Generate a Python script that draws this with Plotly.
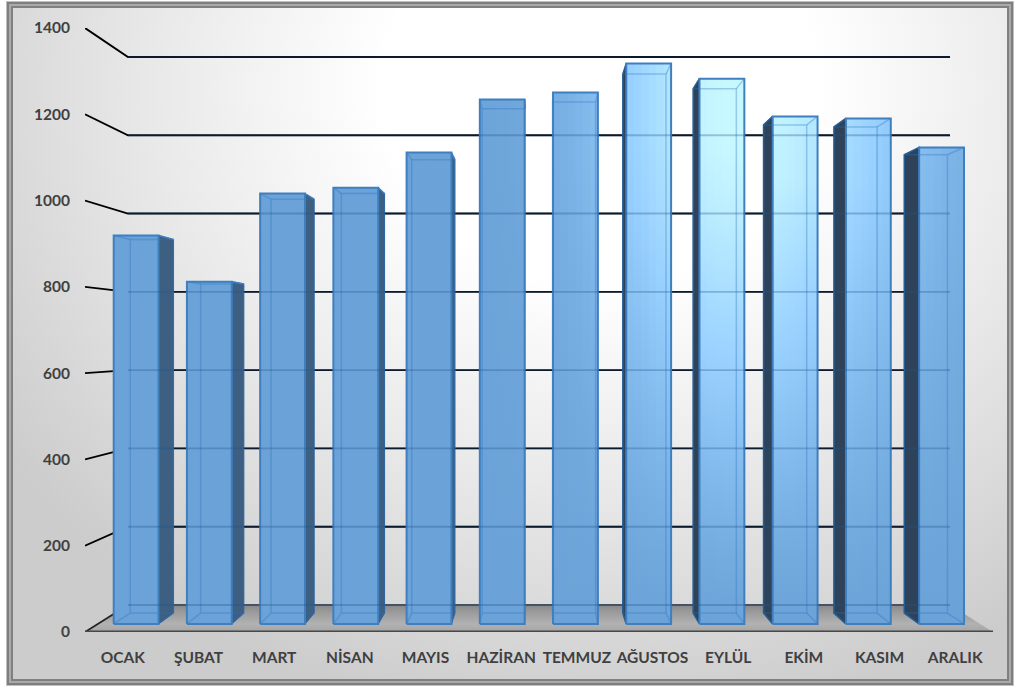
import base64
import plotly.graph_objects as go

# Monthly values and axis labels
months = ["OCAK", "ŞUBAT", "MART", "NİSAN", "MAYIS", "HAZİRAN",
          "TEMMUZ", "AĞUSTOS", "EYLÜL", "EKİM", "KASIM", "ARALIK"]
values = [926, 816, 1026, 1040, 1124, 1250, 1267, 1336, 1300, 1210, 1205, 1136]
y_ticks = [0, 200, 400, 600, 800, 1000, 1200, 1400]

W, H = 1020, 688

# Plot plane in page pixels: value 0 / 1400 rows and the category span
PX_LEFT, PX_RIGHT = 85, 993
PX_Y0, PX_Y1400 = 632, 28
X_UNIT = (PX_RIGHT - PX_LEFT) / 12
Y_UNIT = (PX_Y0 - PX_Y1400) / 1400

# Depth model: the rear wall is narrower and shorter than the front plane
BACK_X0, BACK_X1 = 0.568, 11.432
BACK_Y0, BACK_YK = 62.6, 0.9073
D_FRONT, D_BACK = 0.30, 0.70
BAR_START, BAR_WIDTH, BAR_STEP = 0.215, 0.61, 0.996


def project(c, v, d):
    """Map (category position, value, depth) onto the x/y axes."""
    xb = BACK_X0 + c * (BACK_X1 - BACK_X0) / 12
    yb = BACK_Y0 + BACK_YK * v
    return c * (1 - d) + xb * d, v * (1 - d) + yb * d


def path(*pts):
    xs, ys = zip(*pts)
    return list(xs), list(ys)


def highlight(x, y):
    """Strength of the glossy sheen at an axis position, 0..1."""
    px = PX_LEFT + x * X_UNIT
    py = PX_Y0 - y * Y_UNIT
    sx = 125 if px < 735 else 170
    gx = 2.718 ** (-((px - 735) / sx) ** 2)
    gy = max(0.0, min(1.0, (620 - py) / 450)) ** 1.2
    return gx * gy


def blue(t):
    """Face colour: steel blue through sky blue up to pale cyan."""
    base, mid, peak = (107, 163, 216), (152, 208, 255), (200, 248, 255)
    a, p, f = (base, mid, t / 0.5) if t < 0.5 else (mid, peak, (t - 0.5) / 0.5)
    r, g, b = [round(u + (w - u) * f) for u, w in zip(a, p)]
    return f"rgb({r},{g},{b})"


# Page backdrop: soft radial sheen inside a bevelled grey frame
svg = f"""<svg xmlns='http://www.w3.org/2000/svg' width='{W}' height='{H}'>
<defs>
<radialGradient id='g' gradientUnits='userSpaceOnUse' cx='0' cy='0' r='1'
 gradientTransform='translate(600 90) scale(720 640)'>
<stop offset='0' stop-color='#ffffff'/><stop offset='0.3' stop-color='#ffffff'/>
<stop offset='0.62' stop-color='#e9e9e9'/><stop offset='1' stop-color='#cccccc'/>
</radialGradient>
</defs>
<rect width='{W}' height='{H}' fill='#ffffff'/>
<rect x='6' y='1' width='1008' height='685' fill='#c0c0c0'/>
<rect x='7' y='2' width='1006' height='683' fill='#7e7e7e'/>
<rect x='9' y='4' width='1002' height='679' fill='#aaaaaa'/>
<rect x='11' y='6' width='998' height='675' fill='#808080'/>
<rect x='13' y='8' width='994' height='671' fill='url(#g)'/>
</svg>"""
backdrop = "data:image/svg+xml;base64," + base64.b64encode(svg.encode()).decode()

fig = go.Figure()


def poly(xs, ys, fill=None, gradient=None, line=None, width=0):
    kw = {}
    if gradient:
        kw["fillgradient"] = gradient
    if fill or gradient:
        kw.update(fill="toself")
        if fill:
            kw["fillcolor"] = fill
    fig.add_trace(go.Scatter(
        x=xs, y=ys, mode="lines", cliponaxis=False, hoverinfo="skip",
        line=dict(color=line or "rgba(0,0,0,0)", width=width), **kw))


# Floor
fx, fy = path(project(0, 0, 0), project(0, 0, 1), project(12, 0, 1), project(12, 0, 0), project(0, 0, 0))
poly(fx, fy, gradient=dict(
    type="vertical", start=0, stop=project(0, 0, 1)[1],
    colorscale=[[0, "#a4a4a4"], [0.3, "#b2b2b2"], [0.75, "#9a9a9a"], [1, "#888888"]]))

# Rear wall gridlines with their return strokes to the value axis
for v in y_ticks:
    lx, ly = path(project(0, v, 0), project(0, v, 1), project(12, v, 1))
    if v == 0:
        poly(lx[1:], ly[1:], line="#555555", width=2)
        poly(lx[:2], ly[:2], line="#222222", width=1.75)
    else:
        poly(lx, ly, line="#000000", width=1.9)

# Front edge of the floor
ex, ey = path(project(0, 0, 0), project(12, 0, 0))
poly(ex, ey, line="#484848", width=3)

N_STRIPS = 6
EDGE = "#3f7fc0"
INNER = "rgba(45,115,190,0.34)"

for i, v in enumerate(values):
    c0 = i * BAR_STEP + BAR_START
    c1 = c0 + BAR_WIDTH
    fl, fr = project(c0, 0, D_FRONT), project(c1, 0, D_FRONT)
    tl, tr = project(c0, v, D_FRONT), project(c1, v, D_FRONT)
    bbl, bbr = project(c0, 0, D_BACK), project(c1, 0, D_BACK)
    btl, btr = project(c0, v, D_BACK), project(c1, v, D_BACK)

    # Visible dark flank, on whichever side faces the viewer
    if btr[0] > tr[0] + 0.01:
        sx, sy = path(fr, tr, btr, bbr, fr)
        poly(sx, sy, fill="#3d5f82", line="#2f5f90", width=1)
    if btl[0] < tl[0] - 0.01:
        sx, sy = path(fl, tl, btl, bbl, fl)
        poly(sx, sy, fill="#2e4359", line="#23517e", width=1.5)

    # Front face built from narrow columns, each shaded bottom to top
    for k in range(N_STRIPS):
        a = c0 + (c1 - c0) * k / N_STRIPS
        b = c0 + (c1 - c0) * (k + 1) / N_STRIPS
        b_draw = min(b + 0.012, c1)
        xa, y0 = project(a, 0, D_FRONT)
        xb, y1 = project(b_draw, v, D_FRONT)
        xm = (xa + xb) / 2
        stops = [[j / 8, blue(highlight(xm, y0 + (y1 - y0) * j / 8))] for j in range(9)]
        poly([xa, xb, xb, xa, xa], [y0, y0, y1, y1, y0],
             gradient=dict(type="vertical", start=y0, stop=y1, colorscale=stops))

    # Rear edges and depth diagonals seen through the glass
    rx, ry = path(bbl, btl, btr, bbr, bbl)
    poly(rx, ry, line=INNER, width=1.5)
    for p, q in ((fl, bbl), (fr, bbr), (tl, btl)):
        dx, dy = path(p, q)
        poly(dx, dy, line=INNER, width=1.5)
    dx, dy = path(tr, btr)
    poly(dx, dy, line=EDGE if btr[0] > tr[0] else INNER, width=1.5)

    # Front outline
    ox, oy = path(fl, tl, tr, fr, fl)
    poly(ox, oy, line=EDGE, width=2)

# Gridlines showing faintly through the bars
for v in y_ticks:
    lx, ly = path(project(0, v, 1), project(12, v, 1))
    poly(lx, ly, line="rgba(35,85,140,0.32)", width=1.9)

label_font = dict(family="Lato, Carlito, sans-serif", size=15.5, color="#404040", weight="bold")

fig.update_layout(
    width=W, height=H, autosize=False,
    margin=dict(l=0, r=0, t=0, b=0, pad=0),
    paper_bgcolor="#ffffff", plot_bgcolor="rgba(0,0,0,0)",
    showlegend=False,
    xaxis=dict(
        domain=[PX_LEFT / W, PX_RIGHT / W], range=[0, 12], automargin=False,
        tickmode="array", tickvals=[i + 0.5 for i in range(12)], ticktext=months,
        showgrid=False, zeroline=False, showline=False,
        ticks="outside", ticklen=11, tickcolor="rgba(0,0,0,0)", tickfont=label_font,
    ),
    yaxis=dict(
        domain=[(H - PX_Y0) / H, (H - PX_Y1400) / H], range=[0, 1400], automargin=False,
        tickmode="array", tickvals=y_ticks,
        showgrid=False, zeroline=False, showline=False,
        ticks="outside", ticklen=11, tickcolor="rgba(0,0,0,0)", tickfont=label_font,
    ),
    images=[dict(source=backdrop, xref="paper", yref="paper", x=0, y=1,
                 sizex=1, sizey=1, sizing="stretch", layer="below",
                 xanchor="left", yanchor="top")],
)

fig.write_html("out.html", config=dict(displayModeBar=False))
